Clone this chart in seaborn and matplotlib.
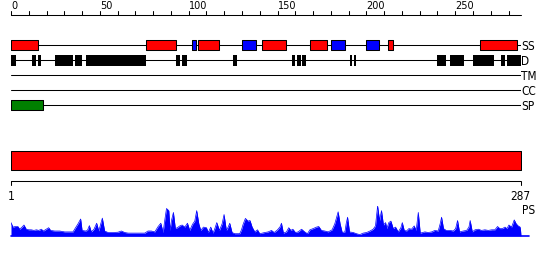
import matplotlib
matplotlib.use("Agg")
import matplotlib.pyplot as plt
import seaborn as sns
import numpy as np

# ---------------- data ----------------
seq_len = 287
top_ticks = list(range(0, 281, 10))
top_labels = [0, 50, 100, 150, 200, 250]
row_names = ["SS", "D", "TM", "CC", "SP"]

ss_helix = [(1, 15), (77, 93), (106, 117), (142, 155), (169, 178), (213, 215), (265, 285)]
ss_strand = [(103, 104), (131, 138), (181, 188), (201, 207)]
disorder = [(1, 3), (13, 14), (16, 17), (26, 35), (37, 38), (39, 40), (43, 76), (94, 95),
            (97, 99), (126, 127), (159, 160), (162, 163), (165, 166), (192, 192), (194, 194),
            (241, 245), (248, 255), (261, 272), (277, 278), (280, 287)]
tm_segments = []
cc_segments = []
sp_segments = [(1, 18)]
domain_segments = [(1, 287)]

ps_pos = [0, 1.1, 2.4, 3.9, 4.9, 6.2, 7.3, 8.6, 10, 11.4, 12.9, 14.3, 15.6, 17.1, 18.2, 19.3,
          21.2, 22.3, 24.6, 27.4, 30.2, 33, 34.9, 35.8, 37.7, 39.2, 40, 41.9, 43, 44.1, 45.2,
          46.7, 48.2, 49.4, 50.5, 51.4, 52.7, 54.6, 57.4, 60.2, 62.1, 64, 65.9, 68.7, 71.5,
          75.3, 77.1, 79, 80.9, 82.8, 84.3, 85.6, 86.5, 87.5, 88.8, 89.5, 90.3, 91.4, 92.5,
          93.6, 95, 96.3, 97.8, 99.3, 100.6, 102.1, 103.4, 104.5, 105.7, 106.8, 108.3, 110,
          111, 112.4, 113.7, 114.7, 115.8, 117.3, 118.8, 119.9, 121.2, 122.2, 123.1, 124.4,
          125.9, 128.7, 129.7, 130.6, 131.9, 133.4, 134.5, 135.7, 137.2, 138.7, 140, 142.8,
          144.7, 146.6, 148.1, 150, 151.5, 152.2, 153.3, 155, 156.3, 157.5, 158.6, 160.1,
          161.6, 163.5, 165.3, 166.8, 168.2, 170, 171.9, 173.2, 174.7, 176.6, 178.5, 180.7,
          182.2, 184.1, 185.2, 186.4, 187.9, 188.6, 189.4, 190.5, 192.6, 194.4, 196.3, 198.2,
          200.1, 202, 203.8, 205.1, 206.3, 207.4, 208.5, 209.6, 210.8, 211.5, 212.6, 213.8,
          215.1, 216.4, 217.9, 219.4, 220.2, 221.3, 222.6, 223.9, 225.4, 226.9, 228, 229.2,
          230.3, 232.9, 234.8, 236.7, 238.5, 240.4, 241.5, 242.3, 243.4, 244.9, 247, 248.9,
          250.2, 251.3, 252.4, 254.5, 256.4, 257.7, 258.4, 259.6, 261.1, 263, 264.8, 266.7,
          268.6, 270.5, 272.3, 273.8, 275.1, 276.5, 278, 279.1, 280.2, 281.7, 283.2, 284.3,
          285.4, 286.5, 287]
ps_val = [.44, .29, .31, .31, .22, .29, .36, .22, .20, .20, .18, .20, .18, .22, .16, .20,
          .27, .18, .16, .16, .13, .13, .13, .22, .40, .56, .18, .16, .18, .34, .13,
          .22, .42, .16, .40, .59, .16, .11, .11, .12, .16, .11, .09, .09, .09,
          .09, .16, .16, .13, .31, .42, .11, .51, .91, .84, .18, .51, .78, .24,
          .27, .33, .36, .29, .42, .18, .38, .49, .84, .40, .18, .29, .27,
          .11, .29, .09, .24, .44, .18, .40, .71, .18, .29, .42, .11,
          .07, .07, .20, .38, .58, .49, .51, .29, .13, .20, .07, .11,
          .13, .18, .11, .20, .31, .42, .09, .13, .27, .18, .22, .11,
          .13, .22, .13, .07, .20, .24, .29, .31, .18, .16, .13, .20,
          .40, .80, .40, .11, .13, .40, .62, .13, .11, .07, .04, .09,
          .11, .16, .22, .33, 1.00, .51, .84, .36, .44, .24, .44, .49,
          .24, .29, .13, .27, .44, .18, .16, .24, .22, .33, .18, .78,
          .09, .13, .11, .13, .18, .16, .40, .62, .24, .18, .18, .16,
          .24, .51, .13, .16, .18, .29, .51, .13, .20, .22, .18, .20,
          .18, .20, .20, .31, .24, .24, .29, .24, .36, .29, .53, .40,
          .33, .29, .07]

# ---------------- styling ----------------
RED = "#ff0000"
BLUE = "#0000ff"
GREEN = "#008000"
LW = 0.75

sns.set_theme(style="white")
plt.rcParams["font.family"] = ["DejaVu Sans"]

W, H = 550, 260
fig = plt.figure(figsize=(W / 100, H / 100), dpi=100)
fig.patch.set_facecolor("white")

x0, x1 = 11, 521
ax = fig.add_axes([x0 / W, 0, (x1 - x0) / W, 1])
ax.set_xlim(0, seq_len)
ax.set_ylim(H, 0)
ax.axis("off")

txt_kw = dict(fontsize=8.5, fontstretch="condensed", color="black")

# top ruler
ax.plot([0, seq_len], [14.7, 14.7], color="black", lw=LW, clip_on=False)
for t in top_ticks:
    ax.plot([t, t], [11, 14.7], color="black", lw=LW, clip_on=False)
for t in top_labels:
    ax.text(t, 9.4, str(t), ha="left", va="baseline", fontsize=7, color="black")

# tracks
row_y = {"SS": 45, "D": 60.3, "TM": 75, "CC": 90.3, "SP": 105}
box_h = 10.4


def spans(segs):
    return [(s - 1, e - s + 1) for s, e in segs]


for name in row_names:
    y = row_y[name]
    ax.plot([0, seq_len], [y, y], color="black", lw=LW, zorder=1)
    ax.text(seq_len + 0.1, y + 4.6, name, ha="left", va="baseline", **txt_kw)

ax.broken_barh(spans(ss_helix), (row_y["SS"] - box_h / 2, box_h), facecolors=RED,
               edgecolors="black", linewidth=LW, zorder=2)
ax.broken_barh(spans(ss_strand), (row_y["SS"] - box_h / 2, box_h), facecolors=BLUE,
               edgecolors="black", linewidth=LW, zorder=2)
ax.broken_barh(spans(disorder), (row_y["D"] - box_h / 2, box_h), facecolors="black",
               edgecolors="black", linewidth=0, zorder=2)
if tm_segments:
    ax.broken_barh(spans(tm_segments), (row_y["TM"] - box_h / 2, box_h), facecolors="gold",
                   edgecolors="black", linewidth=LW, zorder=2)
if cc_segments:
    ax.broken_barh(spans(cc_segments), (row_y["CC"] - box_h / 2, box_h), facecolors="purple",
                   edgecolors="black", linewidth=LW, zorder=2)
ax.broken_barh(spans(sp_segments), (row_y["SP"] - box_h / 2, box_h), facecolors=GREEN,
               edgecolors="black", linewidth=LW, zorder=2)

# domain bar
ax.broken_barh(spans(domain_segments), (150.7, 19.6), facecolors=RED,
               edgecolors="black", linewidth=LW, zorder=2)

# bottom ruler
ax.plot([0, seq_len], [180.7, 180.7], color="black", lw=LW)
for t in (0, seq_len):
    ax.plot([t, t], [180.7, 184.5], color="black", lw=LW, clip_on=False)
ax.text(0, 200, "1", ha="center", va="baseline", **txt_kw)
ax.text(seq_len - 0.5, 200, str(seq_len), ha="center", va="baseline", **txt_kw)
ax.text(seq_len + 0.4, 214.5, "PS", ha="left", va="baseline", **txt_kw)

# PS profile
base_px, scale_px = 235.8, 30.0
ax_ps = fig.add_axes([x0 / W, (H - base_px) / H, (x1 - x0) / W, scale_px / H])
ax_ps.set_xlim(0, seq_len)
ax_ps.set_ylim(0, 1)
ax_ps.axis("off")
ax_ps.patch.set_alpha(0)
ax_ps.fill_between(ps_pos, 0, ps_val, color=BLUE, lw=0)
sns.lineplot(x=ps_pos, y=ps_val, ax=ax_ps, color=BLUE, lw=0.5, estimator=None, sort=False)
ax_ps.plot([0, seq_len + 4.5], [0, 0], color=BLUE, lw=1.2, clip_on=False)

fig.savefig("out.png", dpi=100, facecolor="white")
